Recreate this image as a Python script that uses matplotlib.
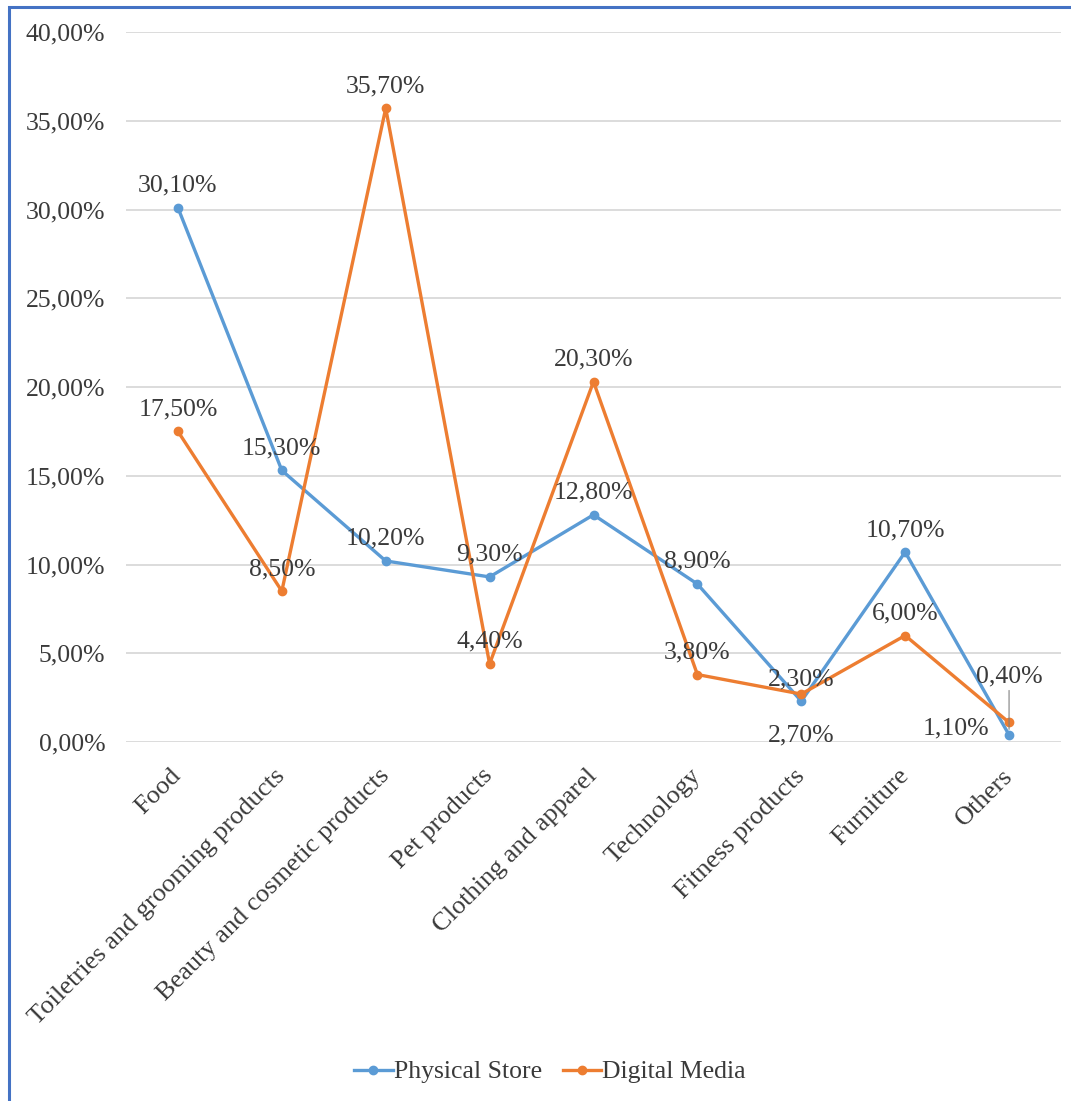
import matplotlib
matplotlib.use("Agg")
import matplotlib.pyplot as plt
from matplotlib.patches import Rectangle
from matplotlib.ticker import FuncFormatter

categories = ["Food", "Toiletries and grooming products", "Beauty and cosmetic products",
              "Pet products", "Clothing and apparel", "Technology", "Fitness products",
              "Furniture", "Others"]
physical_store = [30.10, 15.30, 10.20, 9.30, 12.80, 8.90, 2.30, 10.70, 0.40]
digital_media = [17.50, 8.50, 35.70, 4.40, 20.30, 3.80, 2.70, 6.00, 1.10]
y_ticks = [0, 5, 10, 15, 20, 25, 30, 35, 40]

plt.rcParams['font.family'] = ['Liberation Serif', 'DejaVu Serif']
FS = 18.5
TXT = '#3A3A3A'
BLUE = '#5B9BD5'
ORANGE = '#ED7D31'

W, H = 1071, 1101
fig = plt.figure(figsize=(W / 100, H / 100), dpi=100)
ax = fig.add_axes([126 / W, 1 - 742 / H, (1061 - 126) / W, (742 - 32) / H])

x = list(range(len(categories)))
ax.plot(x, physical_store, color=BLUE, lw=2.4, marker='o', ms=6, label='Physical Store', zorder=3)
ax.plot(x, digital_media, color=ORANGE, lw=2.4, marker='o', ms=6, label='Digital Media', zorder=3)

ax.set_xlim(-0.5, len(categories) - 0.5)
ax.set_ylim(0, 40)
ax.set_yticks(y_ticks)
ax.yaxis.set_major_formatter(FuncFormatter(lambda v, p: f"{v:.2f}%".replace('.', ',')))
ax.set_xticks(x)
ax.set_xticklabels(categories, rotation=45, ha='right', va='center',
                   rotation_mode='anchor', fontsize=19, color=TXT)
ax.tick_params(axis='y', length=0, pad=15, labelsize=FS, labelcolor=TXT)
ax.tick_params(axis='x', length=0, pad=22)
ax.grid(axis='y', color='#D9D9D9', lw=1.3)
ax.set_axisbelow(True)
for s in ax.spines.values():
    s.set_visible(False)


def fmt(v):
    return f"{v:.2f}%".replace('.', ',')


# Physical store labels (above)
for i, v in enumerate(physical_store):
    if categories[i] == "Others":
        ax.annotate(fmt(v), (i, v), xytext=(0, 34), textcoords='offset points',
                    ha='center', va='bottom', fontsize=FS, color=TXT,
                    arrowprops=dict(arrowstyle='-', color='#808080', lw=0.8,
                                    shrinkA=0, shrinkB=4))
    else:
        ax.annotate(fmt(v), (i, v), xytext=(0, 8), textcoords='offset points',
                    ha='center', va='bottom', fontsize=FS, color=TXT)

# Digital media labels
for i, v in enumerate(digital_media):
    if categories[i] == "Fitness products":
        ax.annotate(fmt(v), (i, v), xytext=(0, -22), textcoords='offset points',
                    ha='center', va='top', fontsize=FS, color=TXT)
    elif categories[i] == "Others":
        ax.annotate(fmt(v), (i, v), xytext=(-14, -4), textcoords='offset points',
                    ha='right', va='center', fontsize=FS, color=TXT)
    else:
        ax.annotate(fmt(v), (i, v), xytext=(0, 8), textcoords='offset points',
                    ha='center', va='bottom', fontsize=FS, color=TXT)

leg = fig.legend(loc='center', bbox_to_anchor=(550 / W, 1 - 1072 / H), ncol=2,
                 frameon=False, fontsize=FS, handlelength=1.5, handletextpad=0.05,
                 columnspacing=0.8, labelcolor=TXT)

# outer blue border (top and left visible)
fig.patches.append(Rectangle((8.5 / W, -0.05), 1.2, 1 - 6.5 / H + 0.05,
                             transform=fig.transFigure, fill=False,
                             edgecolor='#4472C4', lw=2.2))

fig.savefig('out.png', dpi=100)
